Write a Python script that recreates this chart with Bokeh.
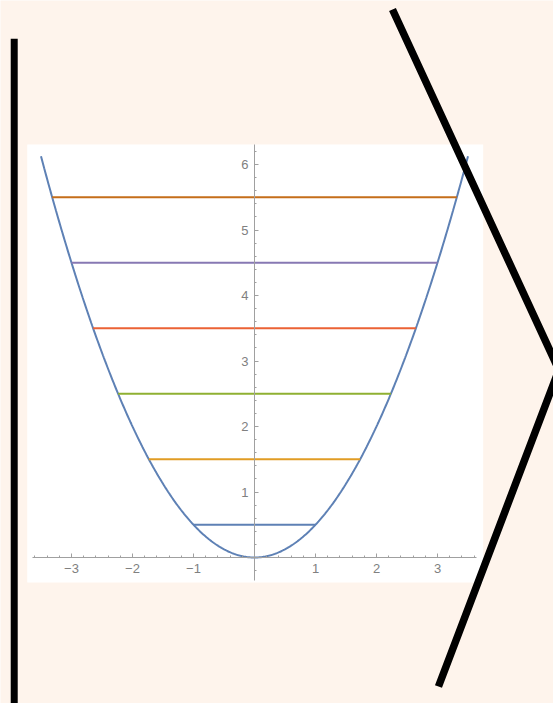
import numpy as np
from bokeh.plotting import figure
from bokeh.models import Range1d, FixedTicker
from bokeh.embed import file_html
from bokeh.resources import INLINE

# Harmonic oscillator V(x) = x^2 / 2 with its first six energy levels E_n = n + 1/2
x_lo, x_hi = -3.5, 3.5
energies = [0.5, 1.5, 2.5, 3.5, 4.5, 5.5]
level_colors = ["#5E81B5", "#E19C24", "#8FB032", "#EB6235", "#8778B3", "#C56E1A"]

x_ticks = [-3, -2, -1, 1, 2, 3]
x_tick_labels = ["\u22123", "\u22122", "\u22121", "1", "2", "3"]
x_minor_ticks = [-3.6, -3.4, -3.2, -2.8, -2.6, -2.4, -2.2, -1.8, -1.6, -1.4, -1.2,
                 -0.8, -0.6, -0.4, -0.2, 0.2, 0.4, 0.6, 0.8, 1.2, 1.4, 1.6, 1.8,
                 2.2, 2.4, 2.6, 2.8, 3.2, 3.4, 3.6]
y_ticks = [1, 2, 3, 4, 5, 6]
y_tick_labels = ["1", "2", "3", "4", "5", "6"]
y_minor_ticks = [-0.2, 0.2, 0.4, 0.6, 0.8, 1.2, 1.4, 1.6, 1.8, 2.2, 2.4, 2.6, 2.8,
                 3.2, 3.4, 3.6, 3.8, 4.2, 4.4, 4.6, 4.8, 5.2, 5.4, 5.6, 5.8, 6.2]

# ---- layout (data units) ----
X_RANGE = (-254 / 61, 299 / 61)
Y_RANGE = (-146 / 65.5, 557 / 65.5)
PANEL = dict(left=-3.726, right=3.749, bottom=-0.382, top=6.305)
X_AXIS_BOUNDS = (-3.639, 3.639)
Y_AXIS_BOUNDS = (-0.351, 6.305)
# ket bracket |  > drawn around the plot
BAR_X = [-3.939, -3.939]
BAR_Y = [7.919, -2.4]
ANGLE_X = [2.262, 4.989, 3.016]
ANGLE_Y = [8.366, 2.864, -1.969]

BG = "#FEF4EC"
AXIS_GRAY = "#a0a0a0"
LABEL_GRAY = "#808080"

p = figure(
    width=553, height=703,
    x_range=Range1d(*X_RANGE), y_range=Range1d(*Y_RANGE),
    output_backend="svg", toolbar_location=None,
    min_border=0, background_fill_color=BG, border_fill_color=BG,
    outline_line_color=None,
)
p.grid.visible = False

# white plot panel
p.quad(line_color=None, fill_color="white", **PANEL)

# potential curve
xs = np.linspace(x_lo, x_hi, 401)
p.line(xs, xs ** 2 / 2, line_color=level_colors[0], line_width=2)

# energy levels between the classical turning points
for e, c in zip(energies, level_colors):
    xt = np.sqrt(2 * e)
    p.line([-xt, xt], [e, e], line_color=c, line_width=2)

# axes through the origin, Mathematica style
for ax, ticks, labels, minors, bounds in (
    (p.xaxis[0], x_ticks, x_tick_labels, x_minor_ticks, X_AXIS_BOUNDS),
    (p.yaxis[0], y_ticks, y_tick_labels, y_minor_ticks, Y_AXIS_BOUNDS),
):
    ax.fixed_location = 0
    ax.bounds = bounds
    ax.ticker = FixedTicker(ticks=ticks, minor_ticks=minors)
    ax.major_label_overrides = {t: l for t, l in zip(ticks, labels)}
    ax.axis_line_color = AXIS_GRAY
    ax.axis_line_width = 1
    ax.major_tick_line_color = AXIS_GRAY
    ax.minor_tick_line_color = AXIS_GRAY
    ax.major_tick_in = 4
    ax.major_tick_out = 0
    ax.minor_tick_in = 2
    ax.minor_tick_out = 0
    ax.major_label_text_color = LABEL_GRAY
    ax.major_label_text_font = "Liberation Sans"
    ax.major_label_text_font_size = "13px"
    ax.major_label_standoff = 6

# bracket strokes on top
p.line(BAR_X, BAR_Y, line_color="black", line_width=7, line_cap="butt")
p.line(ANGLE_X, ANGLE_Y, line_color="black", line_width=7.5,
       line_cap="butt", line_join="miter")

open("out.html", "w").write(file_html(p, INLINE))
